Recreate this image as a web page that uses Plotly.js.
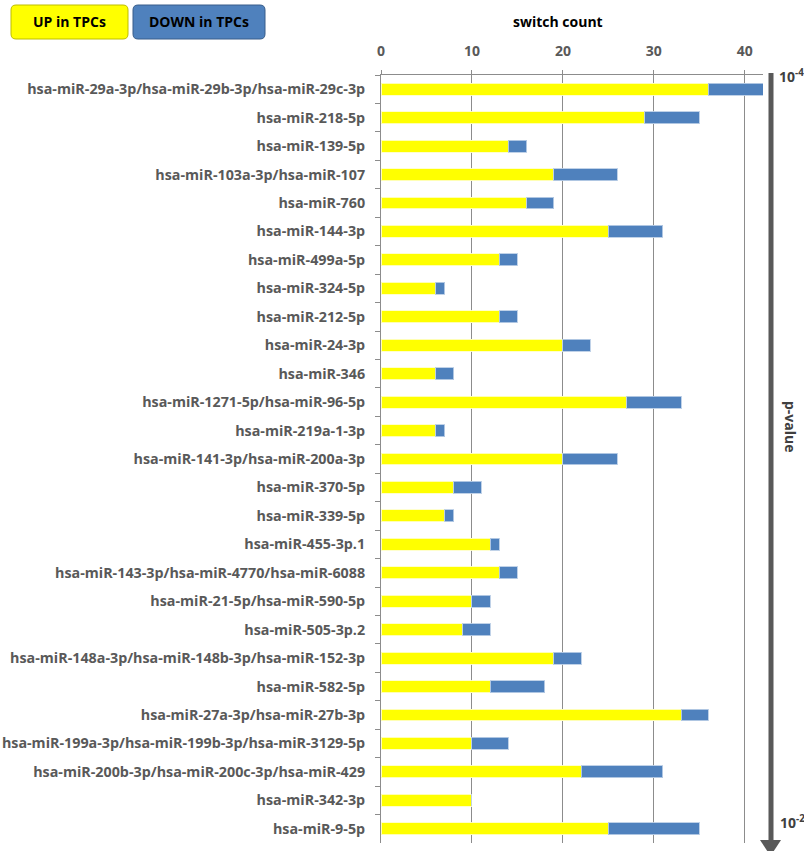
<!DOCTYPE html>
<html>
<head>
<meta charset="utf-8">
<script src="https://cdn.plot.ly/plotly-3.0.1.min.js"></script>
<style>html,body{margin:0;padding:0;background:#fff;}#chart{width:804px;height:851px;}</style>
</head>
<body>
<div id="chart"></div>
<script>
const categories = [
  "hsa-miR-29a-3p/hsa-miR-29b-3p/hsa-miR-29c-3p",
  "hsa-miR-218-5p",
  "hsa-miR-139-5p",
  "hsa-miR-103a-3p/hsa-miR-107",
  "hsa-miR-760",
  "hsa-miR-144-3p",
  "hsa-miR-499a-5p",
  "hsa-miR-324-5p",
  "hsa-miR-212-5p",
  "hsa-miR-24-3p",
  "hsa-miR-346",
  "hsa-miR-1271-5p/hsa-miR-96-5p",
  "hsa-miR-219a-1-3p",
  "hsa-miR-141-3p/hsa-miR-200a-3p",
  "hsa-miR-370-5p",
  "hsa-miR-339-5p",
  "hsa-miR-455-3p.1",
  "hsa-miR-143-3p/hsa-miR-4770/hsa-miR-6088",
  "hsa-miR-21-5p/hsa-miR-590-5p",
  "hsa-miR-505-3p.2",
  "hsa-miR-148a-3p/hsa-miR-148b-3p/hsa-miR-152-3p",
  "hsa-miR-582-5p",
  "hsa-miR-27a-3p/hsa-miR-27b-3p",
  "hsa-miR-199a-3p/hsa-miR-199b-3p/hsa-miR-3129-5p",
  "hsa-miR-200b-3p/hsa-miR-200c-3p/hsa-miR-429",
  "hsa-miR-342-3p",
  "hsa-miR-9-5p"
];
const upValues   = [36, 29, 14, 19, 16, 25, 13, 6, 13, 20, 6, 27, 6, 20, 8, 7, 12, 13, 10, 9, 19, 12, 33, 10, 22, 10, 25];
const downValues = [6, 6, 2, 7, 3, 6, 2, 1, 2, 3, 2, 6, 1, 6, 3, 1, 1, 2, 2, 3, 3, 6, 3, 4, 9, 0, 10];
const xTickValues = [0, 10, 20, 30, 40];
const legendLabels = ["UP in TPCs", "DOWN in TPCs"];
const pTop = "10<sup>-4</sup>";
const pBottom = "10<sup>-2</sup>";

const W = 804, H = 851;
const M = {l: 381, r: 41, t: 75, b: 8};
const PW = W - M.l - M.r, PH = H - M.t - M.b;
const px = v => (v - M.l) / PW;
const py = v => (H - M.b - v) / PH;

const FAM = "Open Sans, Liberation Sans, sans-serif";
const labelFont = {family: FAM, size: 14.3, color: "#595959", weight: "bold"};

const traces = [
  {type: "bar", orientation: "h", name: legendLabels[0], y: categories, x: upValues,
   marker: {color: "#FFFF00", line: {color: "rgba(255,255,200,0.9)", width: 1}}},
  {type: "bar", orientation: "h", name: legendLabels[1], y: categories, x: downValues,
   marker: {color: "#4F81BD", line: {color: "rgba(185,205,229,0.9)", width: 1}}}
];

function rr(x0, y0, x1, y1, r) {
  const P = (x, y) => px(x) + "," + py(y);
  return "M" + P(x0 + r, y0) + " L" + P(x1 - r, y0) + " Q" + P(x1, y0) + " " + P(x1, y0 + r) +
    " L" + P(x1, y1 - r) + " Q" + P(x1, y1) + " " + P(x1 - r, y1) +
    " L" + P(x0 + r, y1) + " Q" + P(x0, y1) + " " + P(x0, y1 - r) +
    " L" + P(x0, y0 + r) + " Q" + P(x0, y0) + " " + P(x0 + r, y0) + " Z";
}

const shapes = [
  {type: "path", xref: "paper", yref: "paper", path: rr(11, 5, 128, 39, 5),
   fillcolor: "#FFFF00", line: {color: "#BDBD00", width: 1}},
  {type: "path", xref: "paper", yref: "paper", path: rr(133, 5, 265, 39, 5),
   fillcolor: "#4F81BD", line: {color: "#385D8A", width: 1}},
  {type: "line", xref: "paper", yref: "paper", x0: px(771), x1: px(771), y0: py(73), y1: py(841),
   line: {color: "#595959", width: 5}},
  {type: "path", xref: "paper", yref: "paper",
   path: "M" + px(760) + "," + py(840) + " L" + px(781) + "," + py(840) + " L" + px(770.5) + "," + py(856) + " Z",
   fillcolor: "#595959", line: {color: "#595959", width: 0}}
];

function ann(x, y, text, size, color, extra) {
  return Object.assign({xref: "paper", yref: "paper", x: px(x), y: py(y), text: text, showarrow: false,
    xanchor: "center", yanchor: "middle", font: {family: FAM, size: size, color: color}}, extra || {});
}

const annotations = [
  ann(69.5, 22, "<b>" + legendLabels[0] + "</b>", 14, "#000"),
  ann(199, 22, "<b>" + legendLabels[1] + "</b>", 14, "#000"),
  ann(558, 22, "<b>switch count</b>", 14, "#000"),
  ann(777, 76, "<b>" + pTop + "</b>", 14, "#404040", {xanchor: "left"}),
  ann(778, 822, "<b>" + pBottom + "</b>", 14, "#404040", {xanchor: "left"}),
  ann(791, 427, "<b>p-value</b>", 14, "#404040", {textangle: 90})
];

const layout = {
  width: W, height: H,
  margin: M,
  paper_bgcolor: "#fff", plot_bgcolor: "#fff",
  barmode: "stack", bargap: 0.58,
  showlegend: false,
  xaxis: {
    side: "top", range: [0, 42], tickvals: xTickValues, ticktext: xTickValues.map(String),
    showgrid: true, gridcolor: "#8C8C8C", gridwidth: 1,
    showline: true, linecolor: "#8C8C8C", linewidth: 1,
    ticks: "outside", ticklen: 4, tickcolor: "#8C8C8C",
    zeroline: false, fixedrange: true,
    tickfont: {family: FAM, size: 14, color: "#595959", weight: "bold"},
    ticklabelstandoff: 8
  },
  yaxis: {
    type: "category", autorange: "reversed",
    showgrid: false, showline: true, linecolor: "#8C8C8C", linewidth: 1,
    ticks: "outside", ticklen: 5, tickcolor: "#8C8C8C", tickson: "boundaries",
    tickfont: labelFont, ticklabelstandoff: 12, fixedrange: true
  },
  shapes: shapes,
  annotations: annotations
};

Plotly.newPlot("chart", traces, layout, {staticPlot: true, displayModeBar: false});
</script>
</body>
</html>
